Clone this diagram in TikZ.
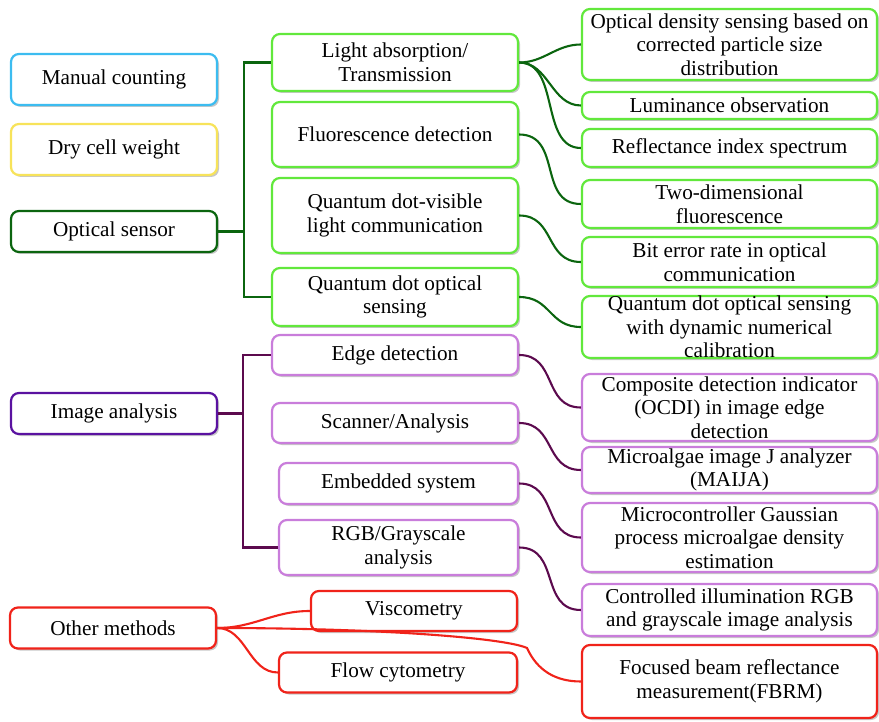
\documentclass[tikz,border=0pt]{standalone}
\usepackage{fontspec}
\setmainfont{Liberation Serif}
\usetikzlibrary{shadows}

\definecolor{cyanb}{HTML}{3CBCF0}
\definecolor{yellowb}{HTML}{F7E35A}
\definecolor{darkg}{HTML}{0B650F}
\definecolor{lightg}{HTML}{62E83C}
\definecolor{indigob}{HTML}{5A12A0}
\definecolor{orchidb}{HTML}{C97DDB}
\definecolor{plumline}{HTML}{5C0A4E}
\definecolor{redb}{HTML}{F0231A}

\tikzset{
  box/.style={draw=#1, line width=2.2pt, rounded corners=8pt, fill=white,
    align=center, inner sep=0pt,
    font=\fontsize{21.2}{23.5}\selectfont,
    drop shadow={shadow xshift=2pt, shadow yshift=-2pt, opacity=0.22, fill=black}},
  gline/.style={draw=darkg, line width=2.1pt},
  pline/.style={draw=plumline, line width=2.1pt},
  rline/.style={draw=redb, line width=2.1pt},
}

\begin{document}
\begin{tikzpicture}[x=1pt, y=-1pt]
\useasboundingbox (0,0) rectangle (879,722);

% ---- left column: main categories
\node[box=cyanb, minimum width=206pt, minimum height=51pt] (man) at (114,79.5) {Manual counting};
\node[box=yellowb, minimum width=206pt, minimum height=51pt] (dry) at (114,149.5) {Dry cell weight};
\node[box=darkg, minimum width=206pt, minimum height=41pt] (opt) at (114,231.5) {Optical sensor};
\node[box=indigob, minimum width=206pt, minimum height=41pt] (img) at (114,413.5) {Image analysis};
\node[box=redb, minimum width=206pt, minimum height=41pt] (oth) at (113,628) {Other methods};

% ---- optical sensor branch
\node[box=lightg, minimum width=246pt, minimum height=57pt] (la) at (395,62.5) {Light absorption/\\Transmission};
\node[box=lightg, minimum width=246pt, minimum height=65pt] (fd) at (395,134.5) {Fluorescence detection};
\node[box=lightg, minimum width=246pt, minimum height=75pt] (qv) at (395,215.5) {Quantum dot-visible\\light communication};
\node[box=lightg, minimum width=246pt, minimum height=58pt] (qo) at (395,297) {Quantum dot optical\\sensing};

\node[box=lightg, minimum width=295pt, minimum height=71pt] (od) at (729.5,44.5) {Optical density sensing based on\\corrected particle size\\distribution};
\node[box=lightg, minimum width=295pt, minimum height=27pt] (lo) at (729.5,105.5) {Luminance observation};
\node[box=lightg, minimum width=295pt, minimum height=38pt] (ri) at (729.5,148) {Reflectance index spectrum};
\node[box=lightg, minimum width=295pt, minimum height=48pt] (td) at (729.5,204) {Two-dimensional\\fluorescence};
\node[box=lightg, minimum width=295pt, minimum height=50pt] (be) at (729.5,262) {Bit error rate in optical\\communication};
\node[box=lightg, minimum width=295pt, minimum height=62pt] (qd) at (729.5,327) {Quantum dot optical sensing\\with dynamic numerical\\calibration};

% ---- image analysis branch
\node[box=orchidb, minimum width=246pt, minimum height=40pt] (ed) at (395,355) {Edge detection};
\node[box=orchidb, minimum width=246pt, minimum height=40pt] (sa) at (395,423) {Scanner/Analysis};
\node[box=orchidb, minimum width=239pt, minimum height=41pt] (es) at (398.5,483.5) {Embedded system};
\node[box=orchidb, minimum width=239pt, minimum height=55pt] (rg) at (398.5,547.5) {RGB/Grayscale\\analysis};

\node[box=orchidb, minimum width=295pt, minimum height=67pt] (cd) at (729.5,407.5) {Composite detection indicator\\(OCDI) in image edge\\detection};
\node[box=orchidb, minimum width=295pt, minimum height=46pt] (mi) at (729.5,470) {Microalgae image J analyzer\\(MAIJA)};
\node[box=orchidb, minimum width=295pt, minimum height=69pt] (mc) at (729.5,537.5) {Microcontroller Gaussian\\process microalgae density\\estimation};
\node[box=orchidb, minimum width=295pt, minimum height=52pt] (ci) at (729.5,610) {Controlled illumination RGB\\and grayscale image analysis};

% ---- other methods branch
\node[box=redb, minimum width=206pt, minimum height=40pt] (vi) at (414,611) {Viscometry};
\node[box=redb, minimum width=238pt, minimum height=40pt] (fc) at (398,672.5) {Flow cytometry};
\node[box=redb, minimum width=295pt, minimum height=73pt] (fb) at (729.5,681.5) {Focused beam reflectance\\measurement(FBRM)};

% ---- trunk connectors
\coordinate (gt) at (244,231.5);
\coordinate (pt) at (243,413.5);
\draw[gline] (opt.east) -- (gt);
\draw[gline] (la.west) -| (gt) |- (qo.west);
\draw[pline] (img.east) -- (pt);
\draw[pline] (ed.west) -| (pt) |- (rg.west);

% ---- curved connectors, optical sensor
\draw[gline] (la.east) to[out=0, in=180] (od.west);
\draw[gline] (la.east) to[out=0, in=180] (lo.west);
\draw[gline] (la.east) to[out=0, in=180] (ri.west);
\draw[gline] (fd.east) to[out=0, in=180, looseness=1.2] (td.west);
\draw[gline] (qv.east) to[out=0, in=180, looseness=1.2] (be.west);
\draw[gline] (qo.east) to[out=0, in=180, looseness=1.2] (qd.west);

% ---- curved connectors, image analysis
\draw[pline] (ed.east) to[out=0, in=180, looseness=1.2] (cd.west);
\draw[pline] (sa.east) to[out=0, in=180, looseness=1.2] (mi.west);
\draw[pline] (es.east) to[out=0, in=180, looseness=1.2] (mc.west);
\draw[pline] (rg.east) to[out=0, in=180, looseness=1.2] (ci.west);

% ---- curved connectors, other methods
\draw[rline] (oth.east) to[out=0, in=180] (vi.west);
\draw[rline] (oth.east) to[out=0, in=180] (fc.west);
\draw[rline] (oth.east) .. controls (380,628) and (505,638) .. (527,648)
  .. controls (537,670) and (555,681.5) .. (fb.west);
\end{tikzpicture}
\end{document}
